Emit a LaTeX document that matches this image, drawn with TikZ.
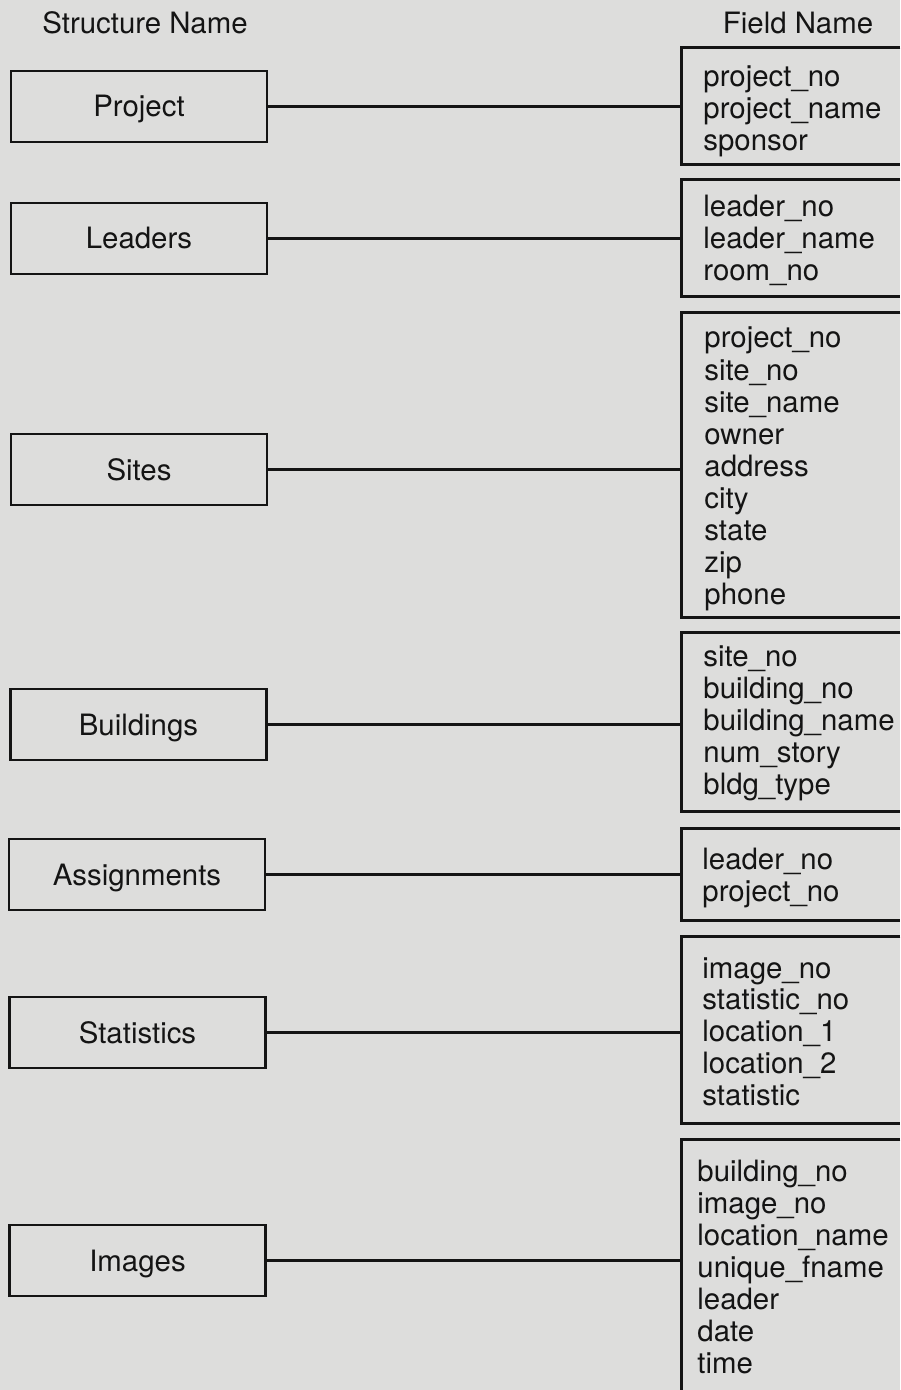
\documentclass[tikz,border=0pt]{standalone}
\usepackage{fontspec}
\setmainfont{TeX Gyre Heros}
\definecolor{paper}{RGB}{221,221,220}
\definecolor{ink}{RGB}{20,20,20}

% field frame: name, top, bottom (in drawing units)
\newcommand\fieldframe[3]{%
  \node[fieldarea, minimum height={(#3-#2)*0.5pt}] (#1) at (791,{(#2+#3)/2}) {};}

\begin{document}
\begin{tikzpicture}[x=0.5pt,y=-0.5pt,
  every node/.style={text=ink, font=\fontsize{14.7}{16}\selectfont},
  structbox/.style={draw=ink, line width=1.35pt, minimum width=128pt,
    minimum height=35.5pt, inner sep=0pt, text height=10.5pt, text depth=0pt},
  fieldarea/.style={draw=none, inner sep=0pt, minimum width=109pt},
  fieldtext/.style={anchor=base west, inner sep=0pt},
  header/.style={anchor=base, inner sep=0pt},
  link/.style={draw=ink, line width=1.35pt}]

\fill[paper] (0,0) rectangle (900,1390);
\useasboundingbox (0,0) rectangle (900,1390);

% column headings
\node[header] (hstruct) at (145,34) {Structure Name};
\node[header] (hfield)  at (798,34) {Field Name};

% structures
\node[structbox] (project)     at (139,106.5)  {Project};
\node[structbox] (leaders)     at (139,238.5)  {Leaders};
\node[structbox] (sites)       at (139,469.5)  {Sites};
\node[structbox] (buildings)   at (138.5,724.5) {Buildings};
\node[structbox] (assignments) at (137,874.5)  {Assignments};
\node[structbox] (statistics)  at (137.5,1032.5) {Statistics};
\node[structbox] (images)      at (137.5,1260.5) {Images};

% field frames
\fieldframe{fproject}{48}{164}
\fieldframe{fleaders}{180}{296}
\fieldframe{fsites}{313}{617}
\fieldframe{fbuildings}{633}{811}
\fieldframe{fassign}{829}{920}
\fieldframe{fstats}{937}{1123}
\fieldframe{fimages}{1140}{1390}

\foreach \f in {fproject,fleaders,fsites,fbuildings,fassign,fstats}
  \draw[link] (\f.north east) -- (\f.north west) -- (\f.south west) -- (\f.south east);
\draw[link] (fimages.north east) -- (fimages.north west) -- (fimages.south west);

% field names
\foreach \t [count=\i from 0] in {project\_no,project\_name,sponsor}
  \node[fieldtext] (fp\i) at (703,{87+31.6*\i}) {\t};
\foreach \t [count=\i from 0] in {leader\_no,leader\_name,room\_no}
  \node[fieldtext] (fl\i) at (703,{217+32*\i}) {\t};
\foreach \t [count=\i from 0] in {project\_no,site\_no,site\_name,owner,address,city,state,zip,phone}
  \node[fieldtext] (fs\i) at (704,{348+32*\i}) {\t};
\foreach \t [count=\i from 0] in {site\_no,building\_no,building\_name,num\_story,bldg\_type}
  \node[fieldtext] (fb\i) at (703,{666+32*\i}) {\t};
\foreach \t [count=\i from 0] in {leader\_no,project\_no}
  \node[fieldtext] (fa\i) at (702,{869+32*\i}) {\t};
\foreach \t [count=\i from 0] in {image\_no,statistic\_no,location\_1,location\_2,statistic}
  \node[fieldtext] (ft\i) at (702,{978+31.8*\i}) {\t};
\foreach \t [count=\i from 0] in {building\_no,image\_no,location\_name,unique\_fname,leader,date,time}
  \node[fieldtext] (fi\i) at (697,{1181+32*\i}) {\t};

% connectors
\draw[link] (project.east)     -- (project.east -| fproject.west);
\draw[link] (leaders.east)     -- (leaders.east -| fleaders.west);
\draw[link] (sites.east)       -- (sites.east -| fsites.west);
\draw[link] (buildings.east)   -- (buildings.east -| fbuildings.west);
\draw[link] (assignments.east) -- (assignments.east -| fassign.west);
\draw[link] (statistics.east)  -- (statistics.east -| fstats.west);
\draw[link] (images.east)      -- (images.east -| fimages.west);

\end{tikzpicture}
\end{document}
